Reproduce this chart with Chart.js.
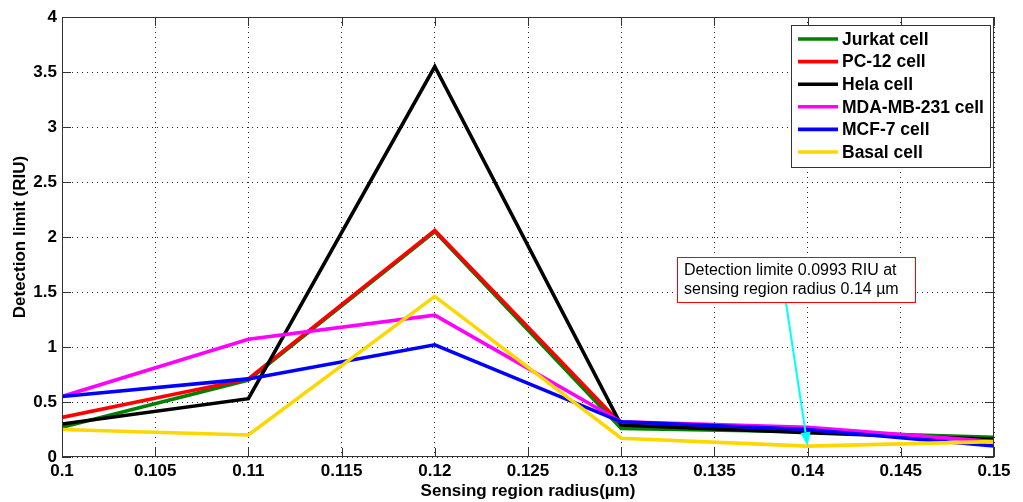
<!DOCTYPE html>
<html><head><meta charset="utf-8">
<script src="https://cdn.jsdelivr.net/npm/chart.js@4/dist/chart.umd.min.js"></script>
<style>html,body{margin:0;padding:0;background:#fff}#wrap{width:1023px;height:502px}</style>
</head><body><div id="wrap"><canvas id="c" width="1023" height="502"></canvas></div>
<script>
const radius = [0.1, 0.11, 0.12, 0.13, 0.14, 0.15];
const seriesNames = ["Jurkat cell", "PC-12 cell", "Hela cell", "MDA-MB-231 cell", "MCF-7 cell", "Basal cell"];
const jurkat = [0.27, 0.70, 2.05, 0.26, 0.23, 0.18];
const pc12   = [0.36, 0.71, 2.06, 0.30, 0.24, 0.15];
const hela   = [0.30, 0.53, 3.55, 0.29, 0.22, 0.16];
const mda    = [0.55, 1.07, 1.29, 0.32, 0.27, 0.14];
const mcf7   = [0.55, 0.71, 1.02, 0.32, 0.25, 0.10];
const basal  = [0.25, 0.20, 1.46, 0.17, 0.0993, 0.14];
const xTicks = [0.1, 0.105, 0.11, 0.115, 0.12, 0.125, 0.13, 0.135, 0.14, 0.145, 0.15];
const yTicks = [0, 0.5, 1, 1.5, 2, 2.5, 3, 3.5, 4];
const noteLines = ["Detection limite 0.0993 RIU at", "sensing region radius 0.14 µm"];
const notePoint = [0.14, 0.0993];

const colors = ["#008000", "#ff0000", "#000000", "#ff00ff", "#0000ff", "#ffd700"];
const allSeries = [jurkat, pc12, hela, mda, mcf7, basal];
const FONT = "'Liberation Sans', Arial, sans-serif";

const datasets = allSeries.map((s, i) => ({
  label: seriesNames[i],
  data: s.map((v, j) => ({x: radius[j], y: v})),
  borderColor: colors[i],
  backgroundColor: colors[i],
  borderWidth: 3.6,
  pointRadius: 0,
  tension: 0,
  order: allSeries.length - i
}));

const framePlugin = {
  id: 'frame',
  afterDatasetsDraw(chart) {
    const {ctx, chartArea: a, scales: {x, y}} = chart;
    ctx.save();
    ctx.strokeStyle = '#333'; ctx.lineWidth = 1;
    ctx.strokeRect(a.left + 0.5, a.top + 0.5, a.right - a.left - 1, a.bottom - a.top - 1);
    ctx.beginPath();
    xTicks.forEach(v => {
      const px = Math.round(x.getPixelForValue(v)) + 0.5;
      ctx.moveTo(px, a.bottom); ctx.lineTo(px, a.bottom - 9);
      ctx.moveTo(px, a.top); ctx.lineTo(px, a.top + 9);
    });
    yTicks.forEach(v => {
      const py = Math.round(y.getPixelForValue(v)) + 0.5;
      ctx.moveTo(a.left, py); ctx.lineTo(a.left + 9, py);
      ctx.moveTo(a.right, py); ctx.lineTo(a.right - 9, py);
    });
    ctx.stroke();

    // annotation box
    const bx = 677, by = 257;
    const bw = 238, bh = 45;
    ctx.fillStyle = '#fff';
    ctx.fillRect(bx, by, bw, bh);
    ctx.strokeStyle = '#ff0000'; ctx.lineWidth = 1;
    ctx.strokeRect(bx + 0.5, by + 0.5, bw, bh);
    ctx.fillStyle = '#000';
    ctx.font = "16px " + FONT;
    ctx.textBaseline = 'middle'; ctx.textAlign = 'left';
    ctx.fillText(noteLines[0], bx + 7, by + 14);
    ctx.fillText(noteLines[1], bx + 7, by + 33);
    // arrow
    const sx = 786, sy = by + bh + 1;
    const ex = x.getPixelForValue(notePoint[0]), ey = y.getPixelForValue(notePoint[1]);
    ctx.strokeStyle = '#00ffff'; ctx.fillStyle = '#00ffff'; ctx.lineWidth = 2;
    const ang = Math.atan2(ey - sy, ex - sx);
    const hl = 14, hw = 5;
    const bxp = ex - hl * Math.cos(ang), byp = ey - hl * Math.sin(ang);
    ctx.beginPath(); ctx.moveTo(sx, sy); ctx.lineTo(bxp, byp); ctx.stroke();
    ctx.beginPath();
    ctx.moveTo(ex, ey);
    ctx.lineTo(bxp + hw * Math.sin(ang), byp - hw * Math.cos(ang));
    ctx.lineTo(bxp - hw * Math.sin(ang), byp + hw * Math.cos(ang));
    ctx.closePath(); ctx.fill();

    // legend
    const lx = 791, ly = 25, lw = 199, lh = 142;
    ctx.fillStyle = '#fff';
    ctx.fillRect(lx, ly, lw, lh);
    ctx.strokeStyle = '#333'; ctx.lineWidth = 1;
    ctx.strokeRect(lx + 0.5, ly + 0.5, lw, lh);
    ctx.font = "bold 17.5px " + FONT;
    chart.data.datasets.forEach((d, i) => {
      const cy = ly + 14 + i * 22.6;
      ctx.strokeStyle = d.borderColor; ctx.lineWidth = 3.6;
      ctx.beginPath(); ctx.moveTo(lx + 7, cy); ctx.lineTo(lx + 47, cy); ctx.stroke();
      ctx.fillStyle = '#000';
      ctx.fillText(d.label, lx + 51, cy + 1);
    });
    ctx.restore();
  }
};

new Chart(document.getElementById('c'), {
  type: 'line',
  data: {datasets},
  options: {
    responsive: false,
    animation: false,
    plugins: {legend: {display: false}, tooltip: {enabled: false}},
    layout: {padding: {top: 17, right: 29, left: 0, bottom: 0}},
    scales: {
      x: {
        type: 'linear', min: 0.1, max: 0.15,
        afterBuildTicks: s => { s.ticks = xTicks.map(v => ({value: v})); },
        afterFit: s => { s.height = 45; },
        ticks: {color: '#000', font: {family: FONT, size: 17, weight: 'bold'}, padding: 4,
          maxRotation: 0, autoSkip: false,
          callback: v => String(parseFloat(v.toFixed(3)))},
        grid: {color: '#222', lineWidth: 1, drawTicks: false, tickLength: 0},
        border: {display: false, dash: [1, 4]},
        title: {display: true, text: 'Sensing region radius(µm)', color: '#000',
          font: {family: FONT, size: 17, weight: 'bold'}, padding: {top: 0, bottom: 0}}
      },
      y: {
        type: 'linear', min: 0, max: 4,
        afterBuildTicks: s => { s.ticks = yTicks.map(v => ({value: v})); },
        afterFit: s => { s.width = 62; },
        ticks: {color: '#000', font: {family: FONT, size: 17, weight: 'bold'}, padding: 5,
          callback: v => String(v)},
        grid: {color: '#222', lineWidth: 1, drawTicks: false, tickLength: 0},
        border: {display: false, dash: [1, 4]},
        title: {display: true, text: 'Detection limit (RIU)', color: '#000',
          font: {family: FONT, size: 17, weight: 'bold'}, padding: {top: 10, bottom: 0}}
      }
    }
  },
  plugins: [framePlugin]
});
</script>
</body></html>
